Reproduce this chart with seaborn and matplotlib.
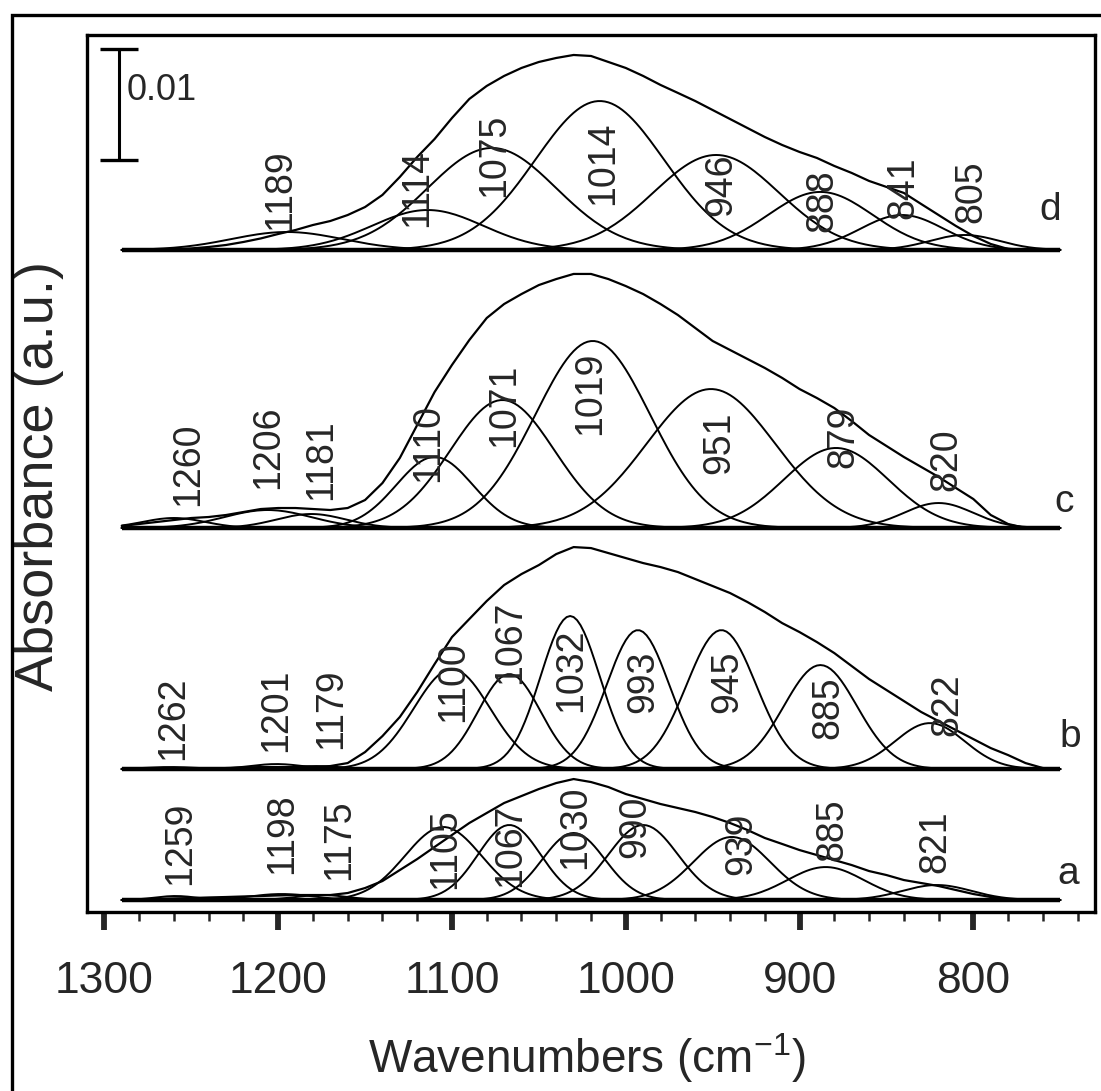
import numpy as np
import pandas as pd
import seaborn as sns
import matplotlib
matplotlib.use("Agg")
import matplotlib.pyplot as plt
from matplotlib.patches import Rectangle
from matplotlib.ticker import MultipleLocator

# ---------------- data (absorbance in units of 1e-3) ----------------
# measured envelopes, sampled every 10 cm-1 from 1290 down to 750
env_wn = list(range(1290, 749, -10))

env_a = [0, 0.05, 0.09, 0.14, 0.18, 0.23, 0.27, 0.32, 0.36, 0.41,
         0.45, 0.45, 0.45, 0.63, 1.08, 1.71, 2.70, 3.69, 4.78, 5.86,
         6.94, 7.84, 8.74, 9.37, 10.00, 10.54, 10.90, 10.63, 10.18, 9.55,
         9.10, 8.65, 8.29, 7.93, 7.48, 6.94, 6.31, 5.59, 5.05, 4.50,
         4.05, 3.60, 3.15, 2.61, 2.25, 1.80, 1.53, 1.26, 0.90, 0.54,
         0.27, 0.09, 0, 0, 0]
env_b = [0, 0, 0, 0, 0, 0, 0.09, 0.14, 0.18, 0.18,
         0.18, 0.18, 0.27, 0.54, 1.53, 2.97, 4.69, 6.94, 9.46, 11.89,
         13.52, 15.14, 16.58, 17.57, 18.38, 19.37, 20.00, 19.91, 19.46, 19.01,
         18.56, 18.20, 17.75, 17.12, 16.49, 15.86, 15.05, 14.15, 13.15, 12.34,
         11.44, 10.45, 9.28, 8.11, 7.12, 6.13, 5.14, 4.32, 3.51, 2.70,
         1.89, 1.26, 0.54, 0.09, 0]
env_c = [0.18, 0.36, 0.54, 0.72, 0.90, 0.99, 1.17, 1.44, 1.71, 1.80,
         1.80, 1.71, 1.62, 1.80, 2.52, 4.05, 6.31, 9.28, 12.25, 14.69,
         16.94, 18.92, 20.18, 21.08, 21.89, 22.43, 22.89, 22.89, 22.43, 21.80,
         21.08, 20.18, 19.19, 18.02, 16.85, 16.04, 15.23, 14.42, 13.52, 12.52,
         11.71, 10.81, 9.64, 8.38, 7.39, 6.40, 5.50, 4.60, 3.60, 2.61,
         1.17, 0.36, 0, 0, 0]
env_d = [0, 0, 0, 0.05, 0.14, 0.27, 0.45, 0.72, 1.04, 1.44,
         1.80, 2.25, 2.61, 3.15, 3.87, 4.96, 6.58, 8.38, 10.00, 11.89,
         13.61, 14.78, 15.68, 16.40, 16.94, 17.30, 17.57, 17.48, 16.94, 16.40,
         15.68, 14.87, 14.15, 13.42, 12.61, 11.80, 10.99, 10.18, 9.46, 8.83,
         8.29, 7.57, 6.94, 6.22, 5.68, 5.14, 4.14, 3.15, 2.16, 1.26,
         0.54, 0.09, 0, 0, 0]

# fitted Gaussian components: centre (cm-1), height, sigma (cm-1)
pk_a_c = [1259, 1198, 1175, 1105, 1067, 1030, 990, 939, 885, 821]
pk_a_h = [0.36, 0.54, 0.45, 6.58, 6.76, 6.04, 6.76, 5.68, 2.97, 1.35]
pk_a_s = [12, 18, 15, 22, 18, 18, 20, 22, 22, 20]

pk_b_c = [1262, 1201, 1179, 1100, 1067, 1032, 993, 945, 888, 825]
pk_b_h = [0.18, 0.45, 0.27, 9.01, 8.56, 13.79, 12.52, 12.52, 9.37, 4.14]
pk_b_s = [15, 15, 15, 22, 18, 17, 18, 20, 21, 20]

pk_c_c = [1260, 1206, 1181, 1110, 1071, 1019, 951, 879, 820]
pk_c_h = [0.90, 1.62, 1.26, 6.40, 11.53, 16.85, 12.52, 7.21, 2.25]
pk_c_s = [18, 25, 20, 22, 30, 33, 37, 30, 20]

pk_d_c = [1195, 1114, 1077, 1015, 948, 888, 841, 805]
pk_d_h = [1.62, 3.60, 9.19, 13.42, 8.56, 5.23, 3.15, 1.35]
pk_d_s = [32, 32, 37, 37, 36, 30, 24, 20]

# peak labels
lab_a = ["1259", "1198", "1175", "1105", "1067", "1030", "990", "939", "885", "821"]
lab_b = ["1262", "1201", "1179", "1100", "1067", "1032", "993", "945", "885", "822"]
lab_c = ["1260", "1206", "1181", "1110", "1071", "1019", "951", "879", "820"]
lab_d = ["1189", "1114", "1075", "1014", "946", "888", "841", "805"]

series_names = ["a", "b", "c", "d"]
scale_bar = 10.0  # = 0.01 absorbance

# ---------------- layout ----------------
offsets = [0.0, 11.80, 33.52, 58.57]
lab_a_pos = ([1256.7, 1197.5, 1164.7, 1103.8, 1066.4, 1029, 994.5, 933.6, 881.4, 821.6],
             [5.14, 5.95, 5.41, 4.60, 4.96, 6.58, 6.58, 5.05, 6.31, 5.23])
lab_b_pos = ([1260.7, 1200.9, 1169.3, 1099.2, 1066.4, 1031.4, 990, 941.7, 883.7, 814.7],
             [4.60, 5.32, 5.41, 7.84, 11.44, 8.92, 7.84, 7.84, 5.50, 5.77])
lab_c_pos = ([1252, 1205.5, 1175, 1113.5, 1070, 1020.5, 946, 875, 815.7],
             [5.77, 7.30, 6.13, 7.66, 11.08, 12.16, 7.66, 8.20, 6.13])
lab_d_pos = ([1199, 1120, 1076, 1013, 945, 887, 840, 801],
             [5.41, 5.59, 8.56, 7.84, 5.86, 4.41, 5.59, 5.23])
letter_pos = [(745.7, 2.34), (744, 2.88), (748, 2.34), (755.5, 3.60)]

# ---------------- build long-form tables ----------------
grid = np.arange(1290, 749, -2.0)
comp_rows = []
env_rows = []
panels = [
    (env_a, pk_a_c, pk_a_h, pk_a_s),
    (env_b, pk_b_c, pk_b_h, pk_b_s),
    (env_c, pk_c_c, pk_c_h, pk_c_s),
    (env_d, pk_d_c, pk_d_h, pk_d_s),
]
for name, off, (env, cc, hh, ss) in zip(series_names, offsets, panels):
    for k, (c0, h0, s0) in enumerate(zip(cc, hh, ss)):
        yv = h0 * np.exp(-0.5 * ((grid - c0) / s0) ** 2) + off
        for xv, yy in zip(grid, yv):
            comp_rows.append((f"{name}{k}", xv, yy))
    for xv, ev in zip(env_wn, env):
        env_rows.append((name, xv, ev + off))
comp_df = pd.DataFrame(comp_rows, columns=["curve", "wn", "A"])
env_df = pd.DataFrame(env_rows, columns=["curve", "wn", "A"])

# ---------------- plotting ----------------
sns.set_style("white")
FAM = ["Liberation Sans", "DejaVu Sans"]
plt.rcParams["font.family"] = FAM
plt.rcParams["mathtext.fontset"] = "custom"
plt.rcParams["mathtext.rm"] = "Liberation Sans"
plt.rcParams["mathtext.it"] = "Liberation Sans"
plt.rcParams["mathtext.bf"] = "Liberation Sans"

fig = plt.figure(figsize=(11.01, 10.91), dpi=100)
ax = fig.add_axes([87 / 1101, 1 - 912 / 1091, 1008 / 1101, 877 / 1091])

sns.lineplot(data=comp_df, x="wn", y="A", units="curve", estimator=None, sort=False,
             color="black", lw=1.4, ax=ax, legend=False)
sns.lineplot(data=env_df, x="wn", y="A", units="curve", estimator=None, sort=False,
             color="black", lw=1.6, ax=ax, legend=False)
for off in offsets:
    ax.hlines(off, env_wn[0], env_wn[-1], color="black", lw=3.2)

# peak labels
for labs, (px, py), off in zip([lab_a, lab_b, lab_c, lab_d],
                               [lab_a_pos, lab_b_pos, lab_c_pos, lab_d_pos], offsets):
    for t, xv, yv in zip(labs, px, py):
        ax.text(xv, yv + off, t, rotation=90, ha="center", va="center",
                fontsize=27, family=FAM)
for name, (xv, yv), off in zip(series_names, letter_pos, offsets):
    ax.text(xv, yv + off, name, ha="center", va="center", fontsize=28, family=FAM)

# scale bar
sb_x = 1291.7
sb_y = 71.67
ax.errorbar([sb_x], [sb_y], yerr=[scale_bar / 2], fmt="none", ecolor="black",
            elinewidth=2.2, capsize=14, capthick=2.4)
ax.text(1287, 72.98, "0.01", ha="left", va="center", fontsize=26, family=FAM)

ax.set_xlim(1310, 730)
ax.set_ylim(-1.08, 77.94)
ax.set_yticks([])
ax.xaxis.set_major_locator(MultipleLocator(100))
ax.xaxis.set_minor_locator(MultipleLocator(20))
ax.tick_params(axis="x", which="major", direction="out", length=13, width=4.2,
               bottom=True, top=False, pad=22, labelsize=32)
ax.tick_params(axis="x", which="minor", direction="out", length=6.5, width=1.8,
               bottom=True, top=False)
for sp in ax.spines.values():
    sp.set_visible(True)
    sp.set_color("black")
    sp.set_linewidth(2.4)

ax.set_xlabel(r"Wavenumbers (cm$^{\mathregular{-1}}$)", fontsize=33, family=FAM)
ax.xaxis.set_label_coords(0.496, -0.166)
ax.xaxis.label.set_va("center")
ax.set_ylabel("Absorbance (a.u.)", fontsize=39, family=FAM)
ax.yaxis.set_label_coords(-0.048, 0.497)
ax.yaxis.label.set_va("center")

# outer frame (cut by the image border on the right and bottom)
fig.add_artist(Rectangle((11.5 / 1101, -0.2), 1.3, 1.2 - 15 / 1091, transform=fig.transFigure,
                         fill=False, lw=2.4, edgecolor="black"))

fig.savefig("out.png", dpi=100)
